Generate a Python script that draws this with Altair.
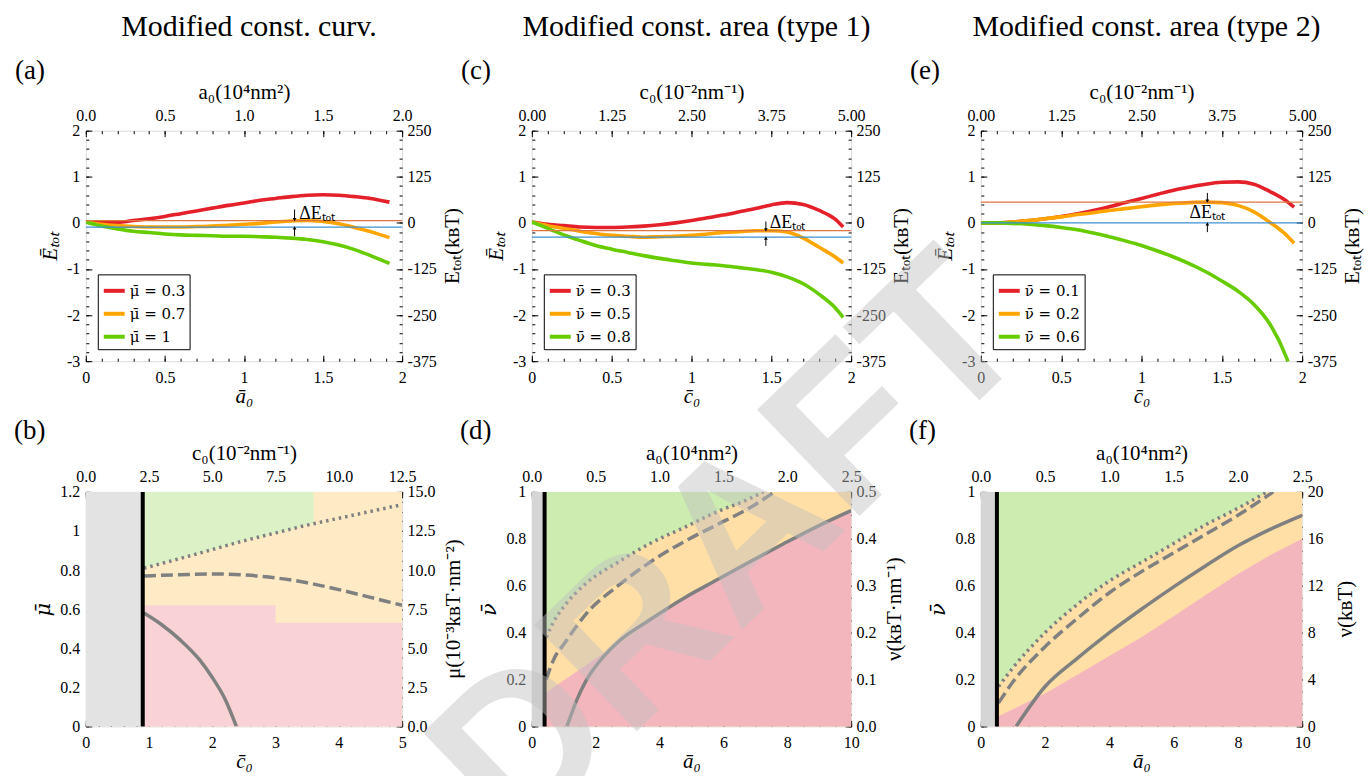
import altair as alt
import pandas as pd

FONT = "Liberation Serif, Times New Roman, serif"
MATH = "DejaVu Serif, serif"
RED, ORANGE, GREEN = "#e4202a", "#ffa500", "#66cc00"
LEVEL_HI, LEVEL_LO = "#e0763f", "#3f8fd2"
CURVE = "#808080"

# ---------------- (a) modified constant curvature ----------------
a_x = [0, 0.1, 0.2, 0.3, 0.4, 0.5, 0.6, 0.7, 0.8, 0.9, 1.0, 1.1, 1.2, 1.3, 1.4, 1.5, 1.6, 1.7, 1.8, 1.92]
a_mu03 = [0.02, 0.0, 0.01, 0.05, 0.09, 0.14, 0.2, 0.26, 0.32, 0.38, 0.43, 0.49, 0.53, 0.57, 0.6, 0.61, 0.6, 0.57, 0.53, 0.45]
a_mu07 = [0.02, -0.03, -0.06, -0.08, -0.09, -0.09, -0.09, -0.08, -0.07, -0.05, -0.03, -0.01, 0.02, 0.04, 0.05, 0.03, -0.02, -0.1, -0.19, -0.32]
a_mu1 = [0.02, -0.07, -0.13, -0.18, -0.21, -0.24, -0.26, -0.27, -0.28, -0.29, -0.29, -0.3, -0.31, -0.33, -0.36, -0.41, -0.48, -0.58, -0.71, -0.88]
a_labels = ["\u03bc\u0304 = 0.3", "\u03bc\u0304 = 0.7", "\u03bc\u0304 = 1"]
a_levels = [0.05, -0.09]
a_arrow = [1.32, 0.29, 0.07, -0.29, -0.11]
a_text = [1.35, 0.19]

# ---------------- (c) modified constant area (type 1) ----------------
c_x = [0, 0.1, 0.2, 0.3, 0.4, 0.5, 0.6, 0.7, 0.8, 0.9, 1.0, 1.1, 1.2, 1.3, 1.4, 1.5, 1.6, 1.7, 1.8, 1.9, 1.95]
c_nu03 = [0.02, -0.03, -0.06, -0.09, -0.1, -0.1, -0.09, -0.07, -0.04, 0.0, 0.05, 0.11, 0.17, 0.24, 0.31, 0.39, 0.44, 0.4, 0.27, 0.08, -0.09]
c_nu05 = [0.02, -0.06, -0.12, -0.18, -0.23, -0.27, -0.29, -0.31, -0.3, -0.29, -0.27, -0.24, -0.21, -0.19, -0.17, -0.17, -0.2, -0.33, -0.53, -0.74, -0.87]
c_nu08 = [0.02, -0.12, -0.26, -0.38, -0.49, -0.57, -0.64, -0.71, -0.77, -0.82, -0.87, -0.9, -0.93, -0.97, -1.01, -1.07, -1.17, -1.32, -1.55, -1.84, -2.05]
c_labels = ["\u03bd\u0304 = 0.3", "\u03bd\u0304 = 0.5", "\u03bd\u0304 = 0.8"]
c_levels = [-0.17, -0.31]
c_arrow = [1.466, 0.03, -0.15, -0.5, -0.33]
c_text = [1.49, -0.01]

# ---------------- (e) modified constant area (type 2) ----------------
e_x = [0, 0.1, 0.2, 0.3, 0.4, 0.5, 0.6, 0.7, 0.8, 0.9, 1.0, 1.1, 1.2, 1.3, 1.4, 1.5, 1.6, 1.7, 1.8, 1.9, 1.95]
e_nu01 = [0.0, 0.0, 0.02, 0.05, 0.09, 0.14, 0.2, 0.27, 0.35, 0.44, 0.53, 0.62, 0.71, 0.78, 0.84, 0.88, 0.89, 0.84, 0.68, 0.48, 0.34]
e_nu02 = [0.0, 0.0, 0.02, 0.05, 0.09, 0.13, 0.18, 0.22, 0.27, 0.31, 0.35, 0.39, 0.42, 0.44, 0.45, 0.44, 0.38, 0.24, 0.01, -0.26, -0.44]
e_nu06 = [0.0, 0.0, -0.01, -0.03, -0.06, -0.1, -0.15, -0.22, -0.3, -0.39, -0.49, -0.61, -0.74, -0.89, -1.06, -1.26, -1.48, -1.77, -2.2, -2.9, -3.4]
e_labels = ["\u03bd\u0304 = 0.1", "\u03bd\u0304 = 0.2", "\u03bd\u0304 = 0.6"]
e_levels = [0.45, 0.0]
e_arrow = [1.41, 0.65, 0.47, -0.2, -0.02]
e_text = [1.41, 0.22]

# ---------------- (b) phase diagram, const. curvature ----------------
b_wall = 0.9
b_dot_x = [0.92, 1.5, 2.0, 2.5, 3.0, 3.5, 4.0, 4.5, 5.0]
b_dot_y = [0.81, 0.86, 0.905, 0.95, 0.99, 1.03, 1.065, 1.1, 1.135]
b_dash_x = [0.92, 1.5, 2.0, 2.5, 3.0, 3.5, 4.0, 4.5, 5.0]
b_dash_y = [0.77, 0.776, 0.78, 0.775, 0.76, 0.735, 0.7, 0.66, 0.62]
b_solid_x = [0.92, 1.2, 1.5, 1.8, 2.0, 2.2, 2.38]
b_solid_y = [0.58, 0.52, 0.44, 0.34, 0.25, 0.14, 0.0]
b_green_x = [0.9, 1.5, 2.0, 2.5, 3.0, 3.6]
b_green_lo = [0.81, 0.86, 0.905, 0.95, 0.99, 1.04]
b_red_x = [0.9, 3.0, 3.0, 5.0]
b_red_hi = [0.62, 0.62, 0.53, 0.53]

# ---------------- (d) phase diagram, const. area type 1 ----------------
d_wall = 0.4
d_dot_x = [0.45, 0.7, 1.0, 1.7, 2.7, 3.7, 4.8, 5.8, 6.8, 7.25]
d_dot_y = [0.38, 0.45, 0.51, 0.61, 0.70, 0.78, 0.85, 0.915, 0.97, 1.0]
d_dash_x = [0.45, 0.7, 1.0, 1.7, 2.7, 3.7, 4.8, 5.8, 6.8, 7.6]
d_dash_y = [0.2, 0.29, 0.35, 0.48, 0.6, 0.7, 0.79, 0.86, 0.93, 1.0]
d_solid_x = [1.1, 1.4, 1.7, 2.2, 2.7, 3.7, 4.8, 5.8, 6.8, 7.9, 8.9, 10]
d_solid_y = [0.0, 0.11, 0.195, 0.29, 0.36, 0.455, 0.55, 0.625, 0.70, 0.78, 0.85, 0.92]
d_green_x = [0.4, 0.7, 1.0, 1.7, 2.7, 3.7, 4.8, 5.8, 6.8, 7.25]
d_green_lo = [0.38, 0.45, 0.51, 0.61, 0.70, 0.78, 0.85, 0.915, 0.97, 1.0]
d_red_x = [0.4, 2, 3, 4.0, 4.8, 5.8, 6.8, 7.9, 8.9, 10]
d_red_hi = [0.14, 0.29, 0.38, 0.48, 0.555, 0.63, 0.705, 0.785, 0.855, 0.925]

# ---------------- (f) phase diagram, const. area type 2 ----------------
f_wall = 0.5
f_dot_x = [0.55, 1, 2, 3, 4, 5, 6, 7, 8, 8.9]
f_dot_y = [0.17, 0.25, 0.4, 0.52, 0.62, 0.7, 0.78, 0.86, 0.93, 1.0]
f_dash_x = [0.55, 1, 2, 3, 4, 5, 6, 7, 8, 9.1]
f_dash_y = [0.1, 0.19, 0.34, 0.46, 0.57, 0.66, 0.74, 0.82, 0.9, 1.0]
f_solid_x = [1.1, 2, 3, 4, 5, 6, 7, 8, 9, 10]
f_solid_y = [0.0, 0.17, 0.29, 0.4, 0.5, 0.595, 0.685, 0.77, 0.84, 0.9]
f_green_x = [0.5, 1, 2, 3, 4, 5, 6, 7, 8, 8.9]
f_green_lo = [0.17, 0.25, 0.4, 0.52, 0.62, 0.7, 0.78, 0.86, 0.93, 1.0]
f_red_x = [0.5, 2, 3, 4, 5, 6, 7, 8, 9, 10]
f_red_hi = [0.04, 0.14, 0.22, 0.3, 0.38, 0.47, 0.56, 0.65, 0.73, 0.8]

# tick positions
E_major = [-3, -2, -1, 0, 1, 2]
E_minor = [round(-3 + 0.2 * i, 2) for i in range(26)]
x2_major = [0, 0.5, 1, 1.5, 2]
x2_minor = [round(0.1 * i, 2) for i in range(21)]
b_xmajor = [0, 1, 2, 3, 4, 5]
b_xminor = [round(0.2 * i, 2) for i in range(26)]
b_ymajor = [0, 0.2, 0.4, 0.6, 0.8, 1, 1.2]
b_yminor = [round(0.05 * i, 2) for i in range(25)]
d_xmajor = [0, 2, 4, 6, 8, 10]
d_xminor = [round(0.5 * i, 2) for i in range(21)]
d_ymajor = [0, 0.2, 0.4, 0.6, 0.8, 1]
d_yminor = [round(0.05 * i, 2) for i in range(21)]

T_ABAR = "\u0101\u2080"
T_CBAR = "c\u0304\u2080"
T_A0 = "a\u2080(10\u2074nm\u00b2)"
T_C0 = "c\u2080(10\u207b\u00b2nm\u207b\u00b9)"
T_EBAR = "\u0112\u209c\u2092\u209c"
T_E = "E\u209c\u2092\u209c(k\u0299T)"


def major(orient, values, expr, title=None, italic=False, tfont=FONT):
    kw = dict(orient=orient, values=values, labelExpr=expr, domain=False, grid=False,
              ticks=True, tickSize=6, offset=-6, tickColor="black", tickWidth=1,
              labelFont=FONT, labelFontSize=16, labelColor="black", labelFlush=False,
              labelOverlap=False, title=title, titleFont=tfont, titleFontSize=21,
              titleFontWeight="normal", titleColor="black",
              titleFontStyle="italic" if italic else "normal")
    if orient == "bottom":
        kw.update(labelPadding=8, titlePadding=0)
    elif orient == "top":
        kw.update(labelPadding=7, titlePadding=5)
    elif orient == "left":
        kw.update(labelPadding=6, titlePadding=6)
    else:
        kw.update(labelPadding=5)
    return alt.Axis(**kw)


def minor(orient, values):
    return alt.Axis(orient=orient, values=values, labels=False, domain=False, grid=False,
                    ticks=True, tickSize=3, offset=-3, tickColor="black", tickWidth=1, title=None)


def frame(xdom, ydom, xmaj, xmin_, ymaj, ymin_, bexpr, texpr, lexpr, rexpr,
          btitle, ttitle, ltitle, lfont=FONT):
    d = pd.DataFrame({"x": xdom, "y": ydom})
    xs = alt.Scale(domain=xdom, nice=False, zero=False)
    ysc = alt.Scale(domain=ydom, nice=False, zero=False)

    def L(xa, ya):
        return alt.Chart(d).mark_point(opacity=0).encode(
            x=alt.X("x:Q", scale=xs, axis=xa), y=alt.Y("y:Q", scale=ysc, axis=ya))

    layers = [
        L(major("bottom", xmaj, bexpr, btitle, True), major("left", ymaj, lexpr, ltitle, True, lfont)),
        L(major("top", xmaj, texpr, ttitle), major("right", ymaj, rexpr)),
        L(minor("bottom", xmin_), minor("left", ymin_)),
        L(minor("top", xmin_), minor("right", ymin_)),
    ]
    return layers, xs, ysc


def text_layer(text, px, py, size, align="left", font=FONT, **kw):
    return alt.Chart(pd.DataFrame({"t": [text]})).mark_text(
        font=font, fontSize=size, align=align, baseline="middle", color="black", **kw
    ).encode(x=alt.value(px), y=alt.value(py), text="t:N")


def energy_panel(x, series, labels, levels, arrow, txt, txt_align, letter, coltitle,
                 top_expr, top_title, bottom_title, w, h):
    layers, xs, ysc = frame([0, 2], [-3, 2], x2_major, x2_minor, E_major, E_minor,
                            "datum.value + ''", top_expr, "datum.value + ''",
                            "(datum.value * 125) + ''", bottom_title, top_title, T_EBAR)
    rows = []
    for lab, yy in zip(labels, series):
        for xv, yv in zip(x, yy):
            rows.append({"x": xv, "y": yv, "s": lab})
    df = pd.DataFrame(rows)
    X = lambda f="x": alt.X(f + ":Q", scale=xs, axis=None)
    Y = lambda f="y": alt.Y(f + ":Q", scale=ysc, axis=None)
    curves = alt.Chart(df).mark_line(strokeWidth=3.6, interpolate="monotone", clip=True).encode(
        x=X(), y=Y(),
        color=alt.Color("s:N", scale=alt.Scale(domain=labels, range=[RED, ORANGE, GREEN]),
                        legend=alt.Legend(orient="bottom-left", offset=12, title=None,
                                          strokeColor="black", fillColor="white", padding=4,
                                          cornerRadius=0, symbolType="stroke",
                                          symbolStrokeWidth=4, symbolSize=440,
                                          labelFont=MATH, labelFontSize=15, labelColor="black",
                                          rowPadding=2, labelOffset=3)))
    hi = alt.Chart(pd.DataFrame({"y": [levels[0]]})).mark_rule(color=LEVEL_HI, strokeWidth=1.3).encode(y=Y())
    lo = alt.Chart(pd.DataFrame({"y": [levels[1]]})).mark_rule(color=LEVEL_LO, strokeWidth=1.3).encode(y=Y())
    arr = pd.DataFrame({"x": [arrow[0], arrow[0]], "y": [arrow[1], arrow[3]], "y2": [arrow[2], arrow[4]]})
    shafts = alt.Chart(arr).mark_rule(color="black", strokeWidth=1).encode(x=X(), y=Y(), y2="y2:Q")
    head_dn = alt.Chart(pd.DataFrame({"x": [arrow[0]], "y": [arrow[2]]})).mark_point(
        shape="triangle-down", size=14, filled=True, color="black", opacity=1).encode(x=X(), y=Y())
    head_up = alt.Chart(pd.DataFrame({"x": [arrow[0]], "y": [arrow[4]]})).mark_point(
        shape="triangle-up", size=14, filled=True, color="black", opacity=1).encode(x=X(), y=Y())
    dE = alt.Chart(pd.DataFrame({"x": [txt[0]], "y": [txt[1]], "t": ["\u0394E\u209c\u2092\u209c"]})).mark_text(
        font=FONT, fontSize=18, align=txt_align, baseline="middle", color="black").encode(x=X(), y=Y(), text="t:N")
    deco = [text_layer(letter, -71, -60, 27),
            text_layer(coltitle, w / 2 + 5, -104, 30, align="center"),
            text_layer(T_E, w + 51, h / 2, 21, align="center", angle=270)]
    return alt.layer(*layers, curves, hi, lo, shafts, head_dn, head_up, dE, *deco).resolve_axis(
        x="independent", y="independent").properties(width=w, height=h)


def phase_panel(xdom, ydom, xmaj, xmin_, ymaj, ymin_, texpr, rexpr, btitle, ttitle, ltitle, rtitle,
                rtitle_dx, wall, dot, dash, solid, green, red, colors, letter, w, h, extra=()):
    layers, xs, ysc = frame(xdom, ydom, xmaj, xmin_, ymaj, ymin_, "datum.value + ''", texpr,
                            "datum.value + ''", rexpr, btitle, ttitle, ltitle, MATH)
    X = lambda f="x": alt.X(f + ":Q", scale=xs, axis=None)
    Y = lambda f="y": alt.Y(f + ":Q", scale=ysc, axis=None)
    gray_c, green_c, orange_c, red_c = colors
    gray = alt.Chart(pd.DataFrame({"x": [xdom[0]], "x2": [wall], "y": [ydom[0]], "y2": [ydom[1]]})).mark_rect(
        color=gray_c).encode(x=X(), x2="x2:Q", y=Y(), y2="y2:Q")
    orange = alt.Chart(pd.DataFrame({"x": [wall], "x2": [xdom[1]], "y": [ydom[0]], "y2": [ydom[1]]})).mark_rect(
        color=orange_c).encode(x=X(), x2="x2:Q", y=Y(), y2="y2:Q")
    g = pd.DataFrame({"x": green[0], "y": green[1], "y2": [ydom[1]] * len(green[0])})
    green_a = alt.Chart(g).mark_area(color=green_c, interpolate="monotone").encode(x=X(), y=Y(), y2="y2:Q")
    r = pd.DataFrame({"x": red[0], "y": [ydom[0]] * len(red[0]), "y2": red[1]})
    red_a = alt.Chart(r).mark_area(color=red_c).encode(x=X(), y=Y(), y2="y2:Q")

    def curve(xy, dashp):
        kw = dict(color=CURVE, strokeWidth=3.5, interpolate="monotone", clip=True)
        if dashp:
            kw["strokeDash"] = dashp
        return alt.Chart(pd.DataFrame({"x": xy[0], "y": xy[1]})).mark_line(**kw).encode(x=X(), y=Y())

    wall_r = alt.Chart(pd.DataFrame({"x": [wall]})).mark_rule(color="black", strokeWidth=4).encode(x=X())
    deco = [text_layer(letter, -72, -61, 27),
            text_layer(rtitle, w + rtitle_dx, h / 2, 21, align="center", angle=270)]
    return alt.layer(gray, orange, green_a, red_a, curve(dot, [2.5, 4]), curve(dash, [12, 5]),
                     curve(solid, None), wall_r, *extra, *layers, *deco).resolve_axis(
        x="independent", y="independent").properties(width=w, height=h)


W1, W2, W3 = 317, 320, 322
H1, H2 = 231, 235

pa = energy_panel(a_x, [a_mu03, a_mu07, a_mu1], a_labels, a_levels, a_arrow, a_text, "left", "(a)",
                  "Modified const. curv.", "format(datum.value, '.1f')", T_A0, T_ABAR, W1, H1)
pc = energy_panel(c_x, [c_nu03, c_nu05, c_nu08], c_labels, c_levels, c_arrow, c_text, "left", "(c)",
                  "Modified const. area (type 1)", "format(datum.value * 2.5, '.2f')", T_C0, T_CBAR, W2, H1)
pe = energy_panel(e_x, [e_nu01, e_nu02, e_nu06], e_labels, e_levels, e_arrow, e_text, "center", "(e)",
                  "Modified const. area (type 2)", "format(datum.value * 2.5, '.2f')", T_C0, T_CBAR, W3, H1)

sparse = ["#e3e3e3", "#dcf2c6", "#ffeac6", "#f9d2d6"]
dense = ["#d5d5d5", "#cdedb0", "#ffdfa6", "#f4b6bd"]

pb = phase_panel([0, 5], [0, 1.2], b_xmajor, b_xminor, b_ymajor, b_yminor,
                 "format(datum.value * 2.5, '.1f')", "format(datum.value * 12.5, '.1f')",
                 T_CBAR, T_C0, "\u03bc\u0304", "\u03bc(10\u207b\u00b3k\u0299T\u00b7nm\u207b\u00b2)", 52,
                 b_wall, (b_dot_x, b_dot_y), (b_dash_x, b_dash_y), (b_solid_x, b_solid_y),
                 (b_green_x, b_green_lo), (b_red_x, b_red_hi), sparse, "(b)", W1, H2)

watermark = [alt.Chart(pd.DataFrame({"t": ["DRAFT"]})).mark_text(
    font="Liberation Sans", fontWeight="bold", fontSize=215, angle=316, align="center",
    baseline="middle", color="#c0c0c0", opacity=0.45).encode(
    x=alt.value(200), y=alt.value(58), text="t:N")]

pd_ = phase_panel([0, 10], [0, 1], d_xmajor, d_xminor, d_ymajor, d_yminor,
                  "format(datum.value * 0.25, '.1f')", "format(datum.value * 0.5, '.1f')",
                  T_ABAR, T_A0, "\u03bd\u0304", "\u03bd(k\u0299T\u00b7nm\u207b\u00b9)", 44,
                  d_wall, (d_dot_x, d_dot_y), (d_dash_x, d_dash_y), (d_solid_x, d_solid_y),
                  (d_green_x, d_green_lo), (d_red_x, d_red_hi), dense, "(d)", W2, H2, extra=watermark)
pf = phase_panel([0, 10], [0, 1], d_xmajor, d_xminor, d_ymajor, d_yminor,
                 "format(datum.value * 0.25, '.1f')", "format(datum.value * 20, 'd')",
                 T_ABAR, T_A0, "\u03bd\u0304", "\u03bd(k\u0299T)", 44,
                 f_wall, (f_dot_x, f_dot_y), (f_dash_x, f_dash_y), (f_solid_x, f_solid_y),
                 (f_green_x, f_green_lo), (f_red_x, f_red_hi), dense, "(f)", W3, H2)

chart = alt.concat(pa, pc, pe, pb, pd_, pf, columns=3,
                   spacing={"row": 131, "column": 130}, bounds="flush").resolve_scale(
    color="independent").properties(
    padding={"left": 13, "top": 10, "right": 5, "bottom": 5}).configure_view(
    stroke="black", strokeWidth=1.2).configure(font=FONT).configure_axis(
    labelFont=FONT, titleFont=FONT)

chart.save("out.html", embed_options={"renderer": "svg", "actions": False})
